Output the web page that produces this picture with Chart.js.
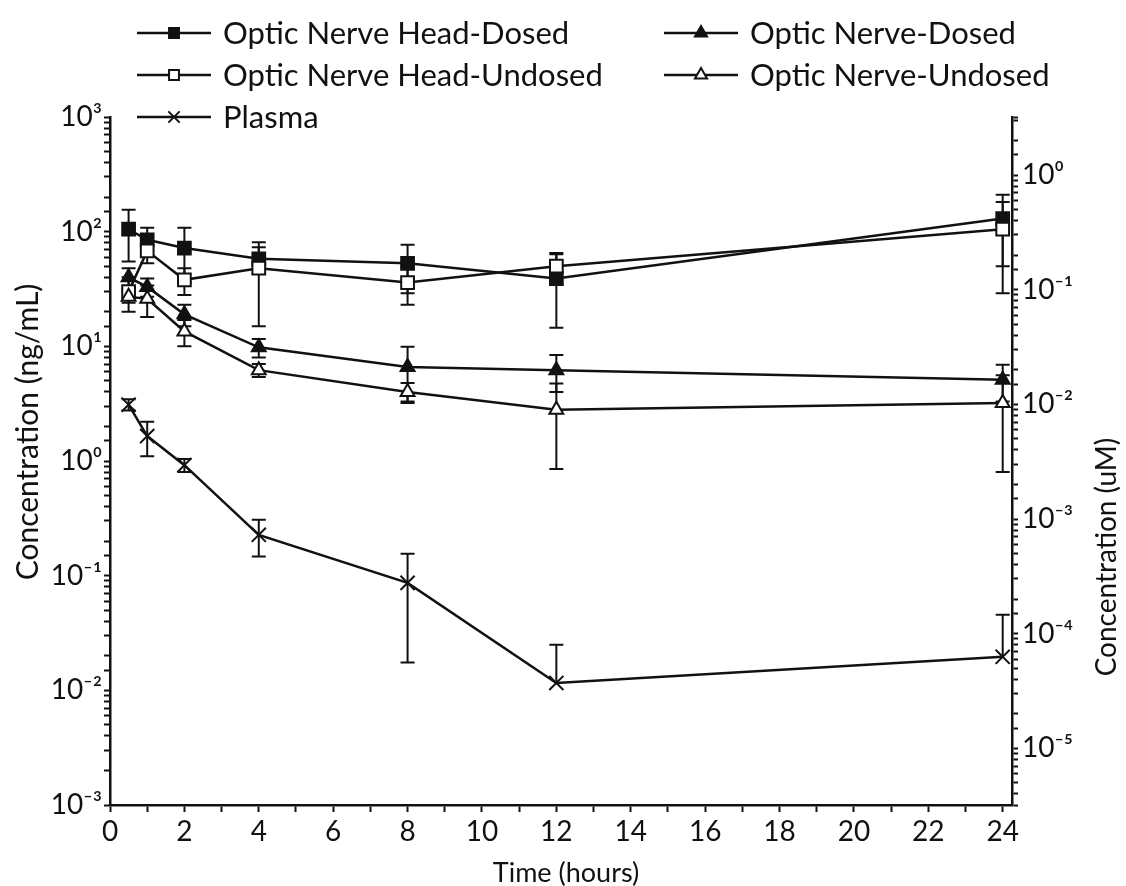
<!DOCTYPE html>
<html>
<head>
<meta charset="utf-8">
<script src="https://cdn.jsdelivr.net/npm/chart.js@4.4.1/dist/chart.umd.min.js"></script>
<style>
  html, body { margin: 0; padding: 0; background: #ffffff; }
  #wrap { width: 1126px; height: 886px; position: relative; }
</style>
</head>
<body>
<div id="wrap"><canvas id="c" width="1126" height="886"></canvas></div>
<script>
// Sampling times (hours)
const timePoints = [0.5, 1, 2, 4, 8, 12, 24];

// Mean concentrations (ng/mL) and standard deviations per tissue
const onhDosed      = [105, 85, 72, 58, 53, 39, 130];
const onhDosedSD    = [50, 23, 36, 15, 24, 24.5, 80];
const onhUndosed    = [30, 68, 38, 48, 36, 50, 105];
const onhUndosedSD  = [10, 15, 10, 33, 13, 15, 76];
const onDosed       = [40, 33, 19, 9.8, 6.6, 6.2, 5.1];
const onDosedSD     = [8, 6, 4, 1.8, 3.3, 2.2, 1.8];
const onUndosed     = [27, 26, 13.5, 6.2, 4.0, 2.8, 3.2];
const onUndosedSD   = [3, 8, 3.5, 0.8, 0.8, 1.95, 2.4];
const plasma        = [3.1, 1.65, 0.92, 0.227, 0.0865, 0.0116, 0.0196];
const plasmaSD      = [0.35, 0.55, 0.12, 0.08, 0.069, 0.0134, 0.026];

const seriesNames = [
  'Optic Nerve Head-Dosed', 'Optic Nerve Head-Undosed', 'Plasma',
  'Optic Nerve-Dosed', 'Optic Nerve-Undosed'
];

// Axis tick values / labels
const xTickValues = [0,1,2,3,4,5,6,7,8,9,10,11,12,13,14,15,16,17,18,19,20,21,22,23,24];
const xTickLabels = ['0','2','4','6','8','10','12','14','16','18','20','22','24'];
const ngExponents = [-3, -2, -1, 0, 1, 2, 3];
const uMExponents = [-5, -4, -3, -2, -1, 0];

// ng/mL per uM (molar mass conversion for the right-hand axis)
const ngPerUM = 312;

const INK = '#111111';
const FONT = 'Lato, "Open Sans", "DejaVu Sans", sans-serif';
const SUP = { '-': '\u207B', '0': '\u2070', '1': '\u00B9', '2': '\u00B2', '3': '\u00B3',
              '4': '\u2074', '5': '\u2075', '6': '\u2076', '7': '\u2077', '8': '\u2078', '9': '\u2079' };
function powLabel(e) { return '10' + String(e).split('').map(c => SUP[c]).join(''); }
function exponentOf(v) {
  const e = Math.log10(v);
  return Math.abs(e - Math.round(e)) < 1e-6 ? Math.round(e) : null;
}

function pts(vals, sds) {
  return timePoints.map((t, i) => ({ x: t, y: vals[i], sd: sds[i] }));
}

function ds(label, vals, sds, style, filled, radius) {
  return {
    label,
    data: pts(vals, sds),
    borderColor: INK,
    borderWidth: 2.5,
    backgroundColor: filled ? INK : '#ffffff',
    pointStyle: style,
    pointRadius: radius,
    pointBorderWidth: 2,
    pointBorderColor: INK,
    pointBackgroundColor: filled ? INK : '#ffffff',
    tension: 0,
    fill: false,
    clip: false,
    yAxisID: 'y'
  };
}

const datasets = [
  ds(seriesNames[2], plasma, plasmaSD, 'crossRot', false, 10),
  ds(seriesNames[4], onUndosed, onUndosedSD, 'triangle', false, 8),
  ds(seriesNames[3], onDosed, onDosedSD, 'triangle', true, 8),
  ds(seriesNames[1], onhUndosed, onhUndosedSD, 'rect', false, 9),
  ds(seriesNames[0], onhDosed, onhDosedSD, 'rect', true, 9)
];

// Mean ± SD whiskers drawn through the y scale
const errorBars = {
  id: 'errorBars',
  beforeDatasetsDraw(chart) {
    const { ctx } = chart;
    const xs = chart.scales.x, ys = chart.scales.y;
    const cap = 7;
    ctx.save();
    ctx.strokeStyle = INK;
    ctx.lineWidth = 2;
    chart.data.datasets.forEach(d => {
      d.data.forEach(p => {
        const px = xs.getPixelForValue(p.x);
        const hi = p.y + p.sd, lo = p.y - p.sd;
        const yHi = ys.getPixelForValue(hi);
        const yMid = ys.getPixelForValue(p.y);
        ctx.beginPath();
        ctx.moveTo(px, yMid); ctx.lineTo(px, yHi);
        ctx.moveTo(px - cap, yHi); ctx.lineTo(px + cap, yHi);
        if (lo > 0) {
          const yLo = ys.getPixelForValue(lo);
          ctx.moveTo(px, yMid); ctx.lineTo(px, yLo);
          ctx.moveTo(px - cap, yLo); ctx.lineTo(px + cap, yLo);
        }
        ctx.stroke();
      });
    });
    ctx.restore();
  }
};

function drawMarker(ctx, style, x, y, r, filled) {
  ctx.save();
  ctx.lineWidth = 2;
  ctx.strokeStyle = INK;
  ctx.fillStyle = filled ? INK : '#ffffff';
  ctx.beginPath();
  if (style === 'rect') {
    const s = r * Math.SQRT1_2;
    ctx.rect(x - s, y - s, 2 * s, 2 * s);
    ctx.fill(); ctx.stroke();
  } else if (style === 'triangle') {
    ctx.moveTo(x, y - r);
    ctx.lineTo(x + 0.866 * r, y + 0.5 * r);
    ctx.lineTo(x - 0.866 * r, y + 0.5 * r);
    ctx.closePath();
    ctx.fill(); ctx.stroke();
  } else {
    const o = r * Math.SQRT1_2;
    ctx.moveTo(x - o, y - o); ctx.lineTo(x + o, y + o);
    ctx.moveTo(x + o, y - o); ctx.lineTo(x - o, y + o);
    ctx.stroke();
  }
  ctx.restore();
}

// Legend with line-marker-line keys, plus the axis titles
const annotations = {
  id: 'annotations',
  afterDraw(chart) {
    const { ctx } = chart;
    const entries = [
      { name: seriesNames[0], style: 'rect', filled: true, col: 0, row: 0 },
      { name: seriesNames[1], style: 'rect', filled: false, col: 0, row: 1 },
      { name: seriesNames[2], style: 'crossRot', filled: false, col: 0, row: 2 },
      { name: seriesNames[3], style: 'triangle', filled: true, col: 1, row: 0 },
      { name: seriesNames[4], style: 'triangle', filled: false, col: 1, row: 1 }
    ];
    const colX = [137, 664];
    const rowY = [33, 75, 117];
    ctx.save();
    ctx.font = '31px ' + FONT;
    ctx.fillStyle = INK;
    ctx.textBaseline = 'middle';
    ctx.textAlign = 'left';
    entries.forEach(e => {
      const x0 = colX[e.col], y = rowY[e.row];
      ctx.strokeStyle = INK;
      ctx.lineWidth = 2.5;
      ctx.beginPath();
      ctx.moveTo(x0, y); ctx.lineTo(x0 + 74, y);
      ctx.stroke();
      drawMarker(ctx, e.style, x0 + 37, y, e.style === 'crossRot' ? 8 : 7, e.filled);
      ctx.fillText(e.name, x0 + 86, y + 1);
    });

    // axis titles
    ctx.textAlign = 'center';
    ctx.font = '27px ' + FONT;
    ctx.fillText('Time (hours)', 566, 873);

    ctx.save();
    ctx.translate(28, 432);
    ctx.rotate(-Math.PI / 2);
    ctx.font = '30px ' + FONT;
    ctx.fillText('Concentration (ng/mL)', 0, 0);
    ctx.restore();

    ctx.save();
    ctx.translate(1107, 557);
    ctx.rotate(-Math.PI / 2);
    ctx.font = '28px ' + FONT;
    ctx.fillText('Concentration (uM)', 0, 0);
    ctx.restore();
    ctx.restore();
  }
};

const tickFont = { family: FONT, size: 28 };

new Chart(document.getElementById('c').getContext('2d'), {
  type: 'line',
  data: { datasets },
  plugins: [errorBars, annotations],
  options: {
    responsive: false,
    animation: false,
    events: [],
    layout: { padding: { top: 117, left: 0, right: 0, bottom: 0 } },
    plugins: { legend: { display: false }, tooltip: { enabled: false } },
    scales: {
      x: {
        type: 'linear',
        position: 'bottom',
        min: 0,
        max: 24.25,
        afterBuildTicks: s => { s.ticks = xTickValues.map(v => ({ value: v })); },
        afterFit: s => { s.height = 81; },
        ticks: {
          autoSkip: false,
          maxRotation: 0,
          padding: 3,
          color: INK,
          font: tickFont,
          callback: v => (xTickLabels.includes(String(v)) ? String(v) : '')
        },
        grid: { drawOnChartArea: false, tickLength: 7, tickColor: INK, tickWidth: 2 },
        border: { display: true, color: INK, width: 2.5 }
      },
      y: {
        type: 'logarithmic',
        position: 'left',
        min: Math.pow(10, ngExponents[0]),
        max: Math.pow(10, ngExponents[ngExponents.length - 1]),
        afterFit: s => { s.width = 110; },
        ticks: {
          autoSkip: false,
          padding: 2,
          color: INK,
          font: tickFont,
          callback: v => {
            const e = exponentOf(v);
            return e !== null && ngExponents.includes(e) ? powLabel(e) : '';
          }
        },
        grid: { drawOnChartArea: false, tickLength: 6, tickColor: INK, tickWidth: 2 },
        border: { display: true, color: INK, width: 2.5 }
      },
      y2: {
        type: 'logarithmic',
        position: 'right',
        min: Math.pow(10, ngExponents[0]) / ngPerUM,
        max: Math.pow(10, ngExponents[ngExponents.length - 1]) / ngPerUM,
        afterFit: s => { s.width = 114; },
        ticks: {
          autoSkip: false,
          padding: 4,
          color: INK,
          font: tickFont,
          callback: v => {
            const e = exponentOf(v);
            return e !== null && uMExponents.includes(e) ? powLabel(e) : '';
          }
        },
        grid: { drawOnChartArea: false, tickLength: 6, tickColor: INK, tickWidth: 2 },
        border: { display: true, color: INK, width: 2.5 }
      }
    }
  }
});
</script>
</body>
</html>
